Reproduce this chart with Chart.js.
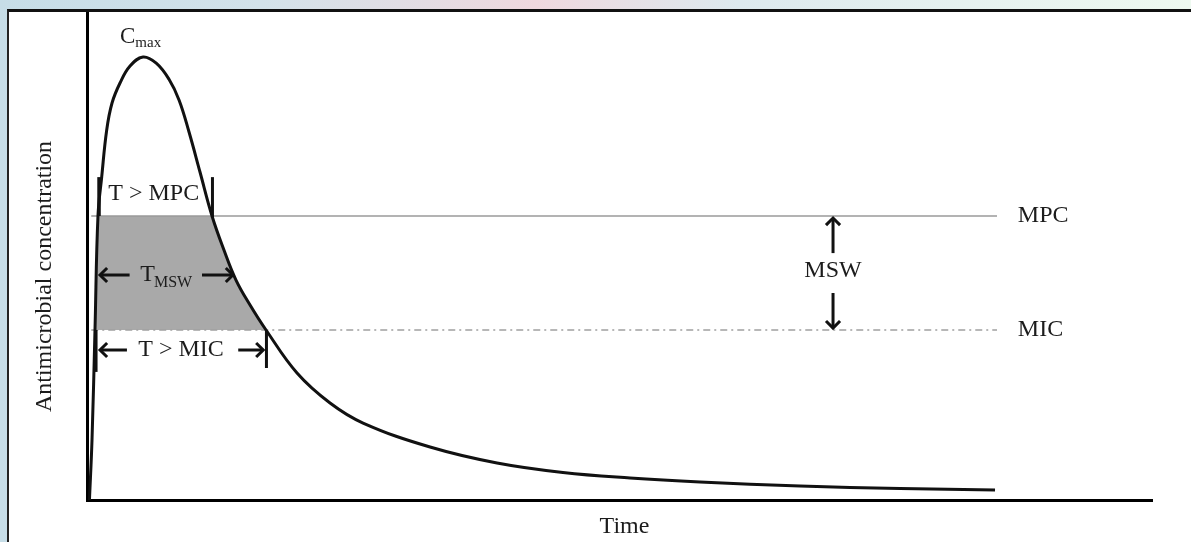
<!DOCTYPE html>
<html><head><meta charset="utf-8">
<script src="https://cdn.jsdelivr.net/npm/chart.js@4.4.0/dist/chart.umd.min.js"></script>
<style>
html,body{margin:0;padding:0;width:1191px;height:542px;overflow:hidden;}
body{background:linear-gradient(90deg,#c6dde7 0%,#d3e2ea 22%,#efd8de 45%,#dde9ee 62%,#eef9f0 100%);position:relative;}
#frame{position:absolute;left:7px;top:9px;width:1220px;height:620px;background:#fff;border-left:2px solid #222;border-top:3px solid #111;}
#c{position:absolute;left:0;top:0;}
</style></head><body>
<div id="frame"></div>
<canvas id="c" width="1191" height="542"></canvas>
<script>
// ---- data (time in arbitrary units 0-100, concentration in arbitrary units 0-100) ----
const timePoints    = [0.23, 0.47, 0.75, 1.03, 1.38, 1.85, 2.35, 3.10, 4.04, 5.26, 6.50, 7.70, 8.65, 9.58, 10.61, 11.74, 12.86, 13.99, 15.31, 16.81, 19.72, 22.82, 25.92, 32.21, 38.50, 44.69, 50.99, 57.56, 66.95, 76.34, 85.26];
const concentration = [0,    12.32, 34.91, 58.32, 66.32, 75.98, 81.52, 85.63, 89.12, 90.97, 89.70, 86.40, 82.10, 75.56, 67.35, 58.32, 51.33, 45.17, 40.04, 34.91, 26.08, 19.92, 15.81, 10.88, 7.60, 5.65, 4.52, 3.70, 2.87, 2.36, 2.05];
const mpcLevel = 58.32;
const micLevel = 34.91;
const thresholdStart = 0.4;
const thresholdEnd = 85.45;
const windowTime = [1.03, 11.74, 12.86, 13.99, 15.31, 16.81, 0.75, 1.03];
const windowConc = [58.32, 58.32, 51.33, 45.17, 40.04, 34.91, 34.91, 58.32];
const levelLabels = ['MPC', 'MIC'];
const axisTitles = ['Time', 'Antimicrobial concentration'];

const pts = (xs, ys) => xs.map((v, i) => ({x: v, y: ys[i]}));
const serif = s => `${s}px "Liberation Serif", "Times New Roman", serif`;

const annot = {
  id: 'annot',
  afterDatasetsDraw(chart) {
    const {ctx, scales: {x, y}, chartArea: ca} = chart;
    const X = v => x.getPixelForValue(v), Y = v => y.getPixelForValue(v);
    ctx.save();
    ctx.fillStyle = '#1c1c1c';
    ctx.strokeStyle = '#111';
    function text(t, px, py, size, align, base) {
      ctx.font = serif(size); ctx.textAlign = align || 'left'; ctx.textBaseline = base || 'alphabetic';
      ctx.fillText(t, px, py);
    }
    function vbar(xv, y1, y2, w) {
      ctx.lineWidth = w; ctx.lineCap = 'butt';
      ctx.beginPath(); ctx.moveTo(X(xv), Y(y1)); ctx.lineTo(X(xv), Y(y2)); ctx.stroke();
    }
    function arrow(x1, y1, x2, y2) {
      ctx.lineWidth = 3; ctx.lineCap = 'butt'; ctx.lineJoin = 'miter';
      ctx.beginPath(); ctx.moveTo(x1, y1); ctx.lineTo(x2, y2); ctx.stroke();
      const a = Math.atan2(y2 - y1, x2 - x1), h = 10;
      ctx.beginPath();
      ctx.moveTo(x2 - h * Math.cos(a - 0.78), y2 - h * Math.sin(a - 0.78));
      ctx.lineTo(x2, y2);
      ctx.lineTo(x2 - h * Math.cos(a + 0.78), y2 - h * Math.sin(a + 0.78));
      ctx.stroke();
    }
    // T > MPC bracket
    vbar(1.13, 66.3, mpcLevel, 3.5);
    vbar(11.78, 66.3, 57.9, 3);
    text('T > MPC', X(2.0), Y(62.8), 24, 'left', 'middle');
    // T > MIC bracket
    vbar(0.85, micLevel, 26.3, 3);
    vbar(16.85, micLevel, 27.1, 3);
    arrow(X(3.75), Y(30.8), X(1.22), Y(30.8));
    text('T > MIC', X(8.83), Y(30.8), 24, 'center', 'middle');
    arrow(X(14.2), Y(30.8), X(16.55), Y(30.8));
    // T_MSW
    arrow(X(4.0), Y(46.2), X(1.22), Y(46.2));
    text('T', X(5.0), Y(46.2), 24, 'left', 'middle');
    ctx.font = serif(24);
    const tw = ctx.measureText('T').width;
    text('MSW', X(5.0) + tw - 1, Y(46.2) + 12, 16, 'left', 'alphabetic');
    arrow(X(10.8), Y(46.2), X(13.7), Y(46.2));
    // MSW between MPC and MIC
    arrow(X(70.05), Y(50.7), X(70.05), Y(57.9));
    text('MSW', X(70.05), Y(47.0), 24, 'center', 'middle');
    arrow(X(70.05), Y(42.5), X(70.05), Y(35.3));
    // Cmax
    text('C', X(3.1), Y(93.8), 23, 'left', 'alphabetic');
    ctx.font = serif(23);
    const cw = ctx.measureText('C').width;
    text('max', X(3.1) + cw, Y(93.0), 15, 'left', 'alphabetic');
    // level labels
    text(levelLabels[0], X(87.4), Y(mpcLevel), 24, 'left', 'middle');
    text(levelLabels[1], X(87.4), Y(micLevel), 24, 'left', 'middle');
    // axis titles
    text(axisTitles[0], (ca.left + ca.right) / 2 + 5, ca.bottom + 33, 24, 'center', 'alphabetic');
    ctx.save();
    ctx.translate(ca.left - 42, (ca.top + ca.bottom) / 2 + 20);
    ctx.rotate(-Math.PI / 2);
    text(axisTitles[1], 0, 0, 24, 'center', 'middle');
    ctx.restore();
    ctx.restore();
  }
};

new Chart(document.getElementById('c'), {
  type: 'line',
  data: {
    datasets: [
      {
        label: 'Concentration',
        data: pts(timePoints, concentration),
        borderColor: '#111', borderWidth: 3, pointRadius: 0,
        tension: 0.4, fill: false
      },
      {
        label: 'MPC',
        data: pts([thresholdStart, thresholdEnd], [mpcLevel, mpcLevel]),
        borderColor: '#9a9a9a', borderWidth: 1.6, pointRadius: 0, fill: false
      },
      {
        label: 'MIC',
        data: pts([thresholdStart, thresholdEnd], [micLevel, micLevel]),
        borderColor: '#a0a0a0', borderWidth: 1.3, borderDash: [7, 4, 2, 4], pointRadius: 0, fill: false
      },
      {
        label: 'Mutant selection window',
        data: pts(windowTime, windowConc),
        borderWidth: 0, borderColor: 'rgba(0,0,0,0)', backgroundColor: '#a9a9a9',
        pointRadius: 0, tension: 0, fill: 'shape'
      }
    ]
  },
  options: {
    responsive: false,
    animation: false,
    devicePixelRatio: 1,
    layout: {padding: {left: 0, top: 13, right: 39, bottom: 0}},
    plugins: {legend: {display: false}, tooltip: {enabled: false}},
    scales: {
      x: {
        type: 'linear', min: 0, max: 100,
        grid: {display: false}, ticks: {display: false},
        border: {display: true, color: '#000', width: 3},
        afterFit: s => { s.height = 42; }
      },
      y: {
        type: 'linear', min: 0, max: 100,
        grid: {display: false}, ticks: {display: false},
        border: {display: true, color: '#000', width: 3},
        afterFit: s => { s.width = 87; }
      }
    }
  },
  plugins: [annot]
});
</script>
</body></html>
